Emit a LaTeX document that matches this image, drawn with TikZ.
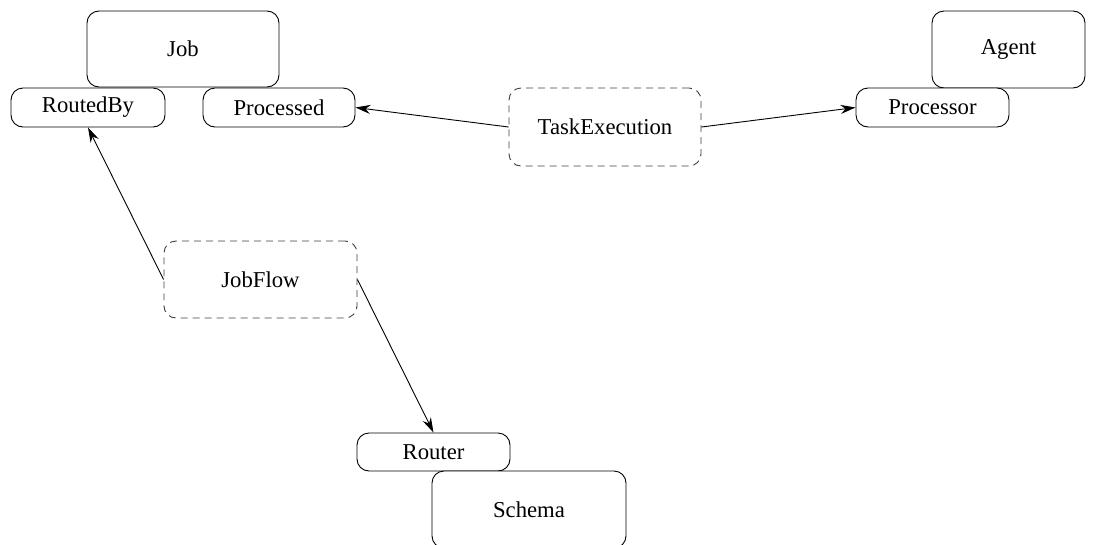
\documentclass[tikz,border=0pt]{standalone}
\usepackage{fontspec}
\setmainfont{Liberation Serif}
\usetikzlibrary{arrows.meta}
\begin{document}
\begin{tikzpicture}[x=1pt,y=-1pt,
  box/.style={draw=black, line width=0.9pt, fill=white, rounded corners=12pt, inner sep=0pt,
    font=\fontsize{22.7}{27}\selectfont},
  relbox/.style={box, dash pattern=on 7pt off 5pt, draw=black!75},
  conn/.style={line width=0.9pt, -{Stealth[length=15pt,width=9pt]}}
]
\useasboundingbox (0,0) rectangle (1117,544);
\node[box, minimum width=192pt, minimum height=76pt] (job) at (183,49) {Job};
\node[box, minimum width=154pt, minimum height=39pt] (routedby) at (88,107.5) {RoutedBy};
\node[box, minimum width=152pt, minimum height=39pt] (processed) at (279,107.5) {Processed};
\node[relbox, minimum width=192pt, minimum height=78pt] (taskexec) at (605,127) {TaskExecution};
\node[box, minimum width=153pt, minimum height=77pt] (agent) at (1008.5,49.5) {Agent};
\node[box, minimum width=153pt, minimum height=39pt] (processor) at (932.5,107.5) {Processor};
\node[relbox, minimum width=193pt, minimum height=77pt] (jobflow) at (260.5,279.5) {JobFlow};
\node[box, minimum width=153pt, minimum height=38pt] (router) at (433.5,452) {Router};
\node[box, minimum width=194pt, minimum height=77pt] (schema) at (529,509.5) {Schema};
\draw[conn] (taskexec.west) -- (processed.east);
\draw[conn] (taskexec.east) -- (processor.west);
\draw[conn] (jobflow.west) -- (routedby.south);
\draw[conn] (jobflow.east) -- (router.north);
\end{tikzpicture}
\end{document}
